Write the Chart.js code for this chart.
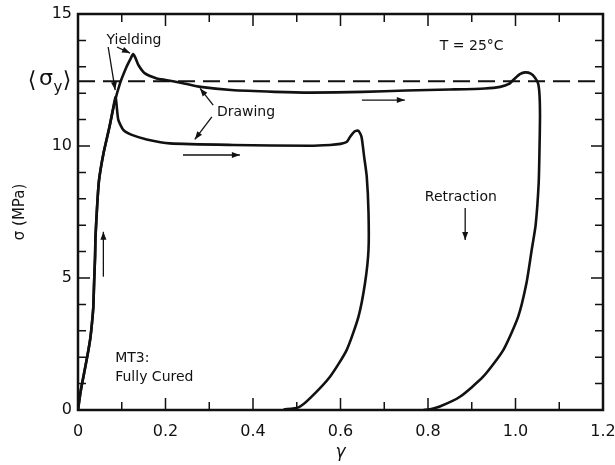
<!DOCTYPE html>
<html>
<head>
<meta charset="utf-8">
<script src="https://cdn.jsdelivr.net/npm/chart.js@4.4.1/dist/chart.umd.min.js"></script>
<style>
  html, body { margin: 0; padding: 0; background: #fff; }
  #wrap { width: 615px; height: 465px; }
</style>
</head>
<body>
<div id="wrap"><canvas id="curve"></canvas></div>
<script>
// strain / stress values (gamma, MPa)
const loopLongGamma  = [0, 0.006, 0.014, 0.022, 0.028, 0.032, 0.035, 0.036, 0.037, 0.039, 0.040, 0.044, 0.048, 0.058, 0.072, 0.083, 0.096, 0.111, 0.120, 0.126, 0.131, 0.138, 0.153, 0.180, 0.200, 0.240, 0.280, 0.350, 0.450, 0.530, 0.650, 0.750, 0.850, 0.930, 0.965, 0.985, 0.998, 1.010, 1.022, 1.035, 1.045, 1.052, 1.055, 1.056, 1.055, 1.053, 1.046, 1.037, 1.025, 1.006, 0.972, 0.926, 0.873, 0.827, 0.805, 0.790];
const loopLongStress = [0, 0.70, 1.40, 2.10, 2.70, 3.30, 3.90, 4.40, 4.90, 5.80, 6.56, 7.80, 8.70, 9.70, 10.73, 11.60, 12.37, 13.00, 13.30, 13.48, 13.35, 13.07, 12.75, 12.56, 12.50, 12.38, 12.24, 12.12, 12.05, 12.02, 12.05, 12.10, 12.14, 12.18, 12.24, 12.35, 12.55, 12.72, 12.79, 12.74, 12.58, 12.35, 11.90, 11.10, 10.00, 8.60, 7.00, 6.06, 4.80, 3.53, 2.27, 1.26, 0.50, 0.13, 0.03, 0];

const loopShortGamma  = [0, 0.006, 0.014, 0.022, 0.028, 0.032, 0.035, 0.036, 0.037, 0.039, 0.040, 0.044, 0.048, 0.058, 0.072, 0.080, 0.086, 0.092, 0.104, 0.123, 0.157, 0.210, 0.355, 0.530, 0.576, 0.600, 0.614, 0.622, 0.632, 0.641, 0.648, 0.654, 0.660, 0.664, 0.664, 0.656, 0.641, 0.614, 0.576, 0.530, 0.504, 0.470];
const loopShortStress = [0, 0.70, 1.40, 2.10, 2.70, 3.30, 3.90, 4.40, 4.90, 5.80, 6.56, 7.80, 8.70, 9.70, 10.73, 11.40, 11.85, 11.00, 10.60, 10.42, 10.25, 10.10, 10.04, 10.01, 10.04, 10.08, 10.15, 10.35, 10.55, 10.58, 10.35, 9.60, 8.84, 7.50, 6.06, 4.80, 3.53, 2.27, 1.26, 0.44, 0.10, 0.02];

const meanYield = 12.45;
const yieldSpan = [0, 1.2];

const xTickValues = [0, 0.2, 0.4, 0.6, 0.8, 1.0, 1.2];
const xTickLabels = ['0', '0.2', '0.4', '0.6', '0.8', '1.0', '1.2'];
const yTickValues = [0, 5, 10, 15];
const yTickLabels = ['0', '5', '10', '15'];

const ink = '#111';
const fontFam = '"DejaVu Sans", sans-serif';

function toPoints(xs, ys) {
  return xs.map((x, i) => ({ x: x, y: ys[i] }));
}

// text notes and arrows, placed in axis units
const notes = [
  { text: 'Yielding', x: 0.128, y: 14.0, align: 'center' },
  { text: 'Drawing', x: 0.384, y: 11.29, align: 'center' },
  { text: 'T = 25°C', x: 0.90, y: 13.79, align: 'center' },
  { text: 'Retraction', x: 0.875, y: 8.07, align: 'center' },
  { text: 'MT3:', x: 0.085, y: 1.97, align: 'left' },
  { text: 'Fully Cured', x: 0.085, y: 1.25, align: 'left' }
];
const arrows = [
  [0.089, 13.75, 0.119, 13.52],
  [0.069, 13.75, 0.085, 12.12],
  [0.309, 11.55, 0.279, 12.18],
  [0.306, 11.10, 0.267, 10.25],
  [0.649, 11.74, 0.747, 11.74],
  [0.240, 9.66, 0.370, 9.66],
  [0.058, 5.05, 0.058, 6.75],
  [0.885, 7.65, 0.885, 6.44]
];

function drawArrow(ctx, x1, y1, x2, y2) {
  ctx.beginPath();
  ctx.moveTo(x1, y1);
  ctx.lineTo(x2, y2);
  ctx.stroke();
  const a = Math.atan2(y2 - y1, x2 - x1);
  const len = 8, half = 3;
  ctx.beginPath();
  ctx.moveTo(x2, y2);
  ctx.lineTo(x2 - len * Math.cos(a) + half * Math.sin(a), y2 - len * Math.sin(a) - half * Math.cos(a));
  ctx.lineTo(x2 - len * Math.cos(a) - half * Math.sin(a), y2 - len * Math.sin(a) + half * Math.cos(a));
  ctx.closePath();
  ctx.fill();
}

const framePlugin = {
  id: 'frame',
  afterDatasetsDraw(chart) {
    const { ctx, chartArea: a, scales } = chart;
    const sx = scales.x, sy = scales.y;
    ctx.save();
    ctx.strokeStyle = ink;
    ctx.fillStyle = ink;

    // box
    ctx.lineWidth = 2.5;
    ctx.strokeRect(a.left, a.top, a.right - a.left, a.bottom - a.top);

    // inward ticks on all four sides
    ctx.lineWidth = 1.5;
    for (let i = 0; i <= 12; i++) {
      const px = sx.getPixelForValue(i / 10);
      const len = i % 2 === 0 ? 12 : 8;
      ctx.beginPath();
      ctx.moveTo(px, a.bottom); ctx.lineTo(px, a.bottom - len);
      ctx.moveTo(px, a.top); ctx.lineTo(px, a.top + len);
      ctx.stroke();
    }
    for (let j = 0; j <= 15; j++) {
      const py = sy.getPixelForValue(j);
      const len = j % 5 === 0 ? 12 : 8;
      ctx.beginPath();
      ctx.moveTo(a.left, py); ctx.lineTo(a.left + len, py);
      ctx.moveTo(a.right, py); ctx.lineTo(a.right - len, py);
      ctx.stroke();
    }

    // notes
    ctx.font = '14px ' + fontFam;
    ctx.textBaseline = 'middle';
    notes.forEach(n => {
      ctx.textAlign = n.align;
      ctx.fillText(n.text, sx.getPixelForValue(n.x), sy.getPixelForValue(n.y));
    });

    ctx.lineWidth = 1.3;
    arrows.forEach(r => {
      drawArrow(ctx, sx.getPixelForValue(r[0]), sy.getPixelForValue(r[1]),
                     sx.getPixelForValue(r[2]), sy.getPixelForValue(r[3]));
    });

    // <sigma_y> label beside the dashed level
    const ly = sy.getPixelForValue(meanYield);
    ctx.textAlign = 'center';
    ctx.font = '22px ' + fontFam;
    ctx.fillText('⟨', 32, ly);
    ctx.font = '22px ' + fontFam;
    ctx.fillText('σ', 46, ly - 2);
    ctx.font = '15px ' + fontFam;
    ctx.fillText('y', 58, ly + 7);
    ctx.font = '22px ' + fontFam;
    ctx.fillText('⟩', 67, ly);
    ctx.restore();
  }
};

new Chart(document.getElementById('curve'), {
  type: 'scatter',
  data: {
    datasets: [
      {
        data: toPoints(loopLongGamma, loopLongStress),
        showLine: true,
        borderColor: ink,
        borderWidth: 2.6,
        pointRadius: 0,
        tension: 0.2
      },
      {
        data: toPoints(loopShortGamma, loopShortStress),
        showLine: true,
        borderColor: ink,
        borderWidth: 2.6,
        pointRadius: 0,
        tension: 0.2
      },
      {
        data: toPoints(yieldSpan, [meanYield, meanYield]),
        showLine: true,
        borderColor: ink,
        borderWidth: 2,
        borderDash: [17, 8],
        pointRadius: 0
      }
    ]
  },
  options: {
    responsive: true,
    maintainAspectRatio: false,
    animation: false,
    layout: { padding: { top: 14, right: 12, left: 0, bottom: 0 } },
    plugins: {
      legend: { display: false },
      tooltip: { enabled: false }
    },
    scales: {
      x: {
        type: 'linear',
        min: 0,
        max: 1.2,
        afterBuildTicks(scale) {
          scale.ticks = xTickValues.map(v => ({ value: v }));
        },
        afterFit(scale) {
          scale.height = 55;
          scale.paddingLeft = 0;
          scale.paddingRight = 0;
        },
        grid: { display: false, drawTicks: false },
        border: { display: false },
        ticks: {
          padding: 12,
          color: ink,
          font: { family: fontFam, size: 16 },
          callback: (v) => xTickLabels[xTickValues.indexOf(v)]
        },
        title: {
          display: true,
          text: 'γ',
          color: ink,
          padding: { top: 0, bottom: 2 },
          font: { family: fontFam, size: 17, style: 'italic' }
        }
      },
      y: {
        type: 'linear',
        min: 0,
        max: 15,
        afterBuildTicks(scale) {
          scale.ticks = yTickValues.map(v => ({ value: v }));
        },
        afterFit(scale) {
          scale.width = 78;
          scale.paddingTop = 0;
          scale.paddingBottom = 0;
        },
        grid: { display: false, drawTicks: false },
        border: { display: false },
        ticks: {
          padding: 6,
          color: ink,
          font: { family: fontFam, size: 16 },
          callback: (v) => yTickLabels[yTickValues.indexOf(v)]
        },
        title: {
          display: true,
          text: 'σ (MPa)',
          color: ink,
          padding: { top: 11, bottom: 0 },
          font: { family: fontFam, size: 15 }
        }
      }
    }
  },
  plugins: [framePlugin]
});
</script>
</body>
</html>
